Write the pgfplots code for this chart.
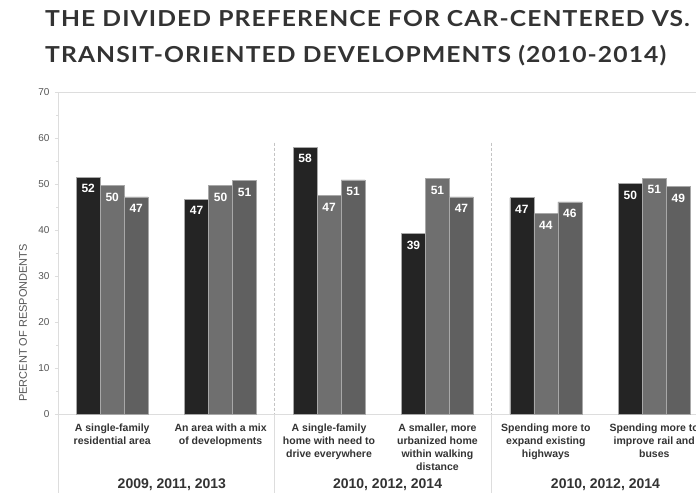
\documentclass[border=0pt]{standalone}
\usepackage{pgfplots}
\pgfplotsset{compat=1.18}
\usepackage{fontspec}
\setmainfont{Liberation Sans}
\newfontfamily\titlefont[LetterSpace=5,FakeStretch=1.12]{Lato}
\definecolor{c1}{HTML}{242424}
\definecolor{c2}{HTML}{6F6F6F}
\definecolor{c3}{HTML}{606060}
\definecolor{edge}{HTML}{A8A8A8}
\definecolor{axisgray}{HTML}{DDDDDD}
\definecolor{dashgray}{HTML}{C4C4C4}
\definecolor{txt}{HTML}{333333}
\definecolor{ticktxt}{HTML}{555555}
\begin{document}
\begin{tikzpicture}
\path[use as bounding box] (0pt,0pt) rectangle (696pt,493pt);
\node[anchor=base west, inner sep=0pt, font=\titlefont\bfseries\fontsize{22}{26}\selectfont, text=txt] at (45pt,466pt) {THE DIVIDED PREFERENCE FOR CAR-CENTERED VS.};
\node[anchor=base west, inner sep=0pt, font=\titlefont\bfseries\fontsize{22}{26}\selectfont, text=txt] at (45pt,430pt) {TRANSIT-ORIENTED DEVELOPMENTS (2010-2014)};
\begin{axis}[
  at={(58pt,79pt)}, anchor=south west,
  width=638pt, height=322pt, scale only axis,
  xmin=-0.5, xmax=5.385, ymin=0, ymax=70,
  ybar=0pt, bar width=24pt,
  clip=false,
  axis x line*=bottom, axis y line*=left,
  axis line style={axisgray, line width=0.8pt, -},
  ytick={0,10,...,70}, minor y tick num=1,
  tick align=outside,
  major tick length=3pt, minor tick length=2pt,
  y tick style={axisgray, line width=0.6pt},
  x tick style={draw=none},
  /pgf/number format/assume math mode=true,
  yticklabel style={font=\fontsize{10}{12}\selectfont, text=ticktxt, xshift=-2pt},
  ylabel={PERCENT OF RESPONDENTS},
  ylabel style={at={(rel axis cs:-0.0549,0.283)}, anchor=center, font=\fontsize{11}{13}\selectfont, text=ticktxt},
  xtick={0,1,2,3,4,5},
  xticklabels={{A single-family\\residential area},{An area with a mix\\of developments},{A single-family\\home with need to\\drive everywhere},{A smaller, more\\urbanized home\\within walking\\distance},{Spending more to\\expand existing\\highways},{Spending more to\\improve rail and\\buses}},
  xticklabel style={align=center, font=\bfseries\fontsize{10.5}{13}\selectfont, text=txt, anchor=north, yshift=-3pt},
  point meta=explicit,
  nodes near coords={\pgfmathprintnumber[fixed,precision=0]{\pgfplotspointmeta}},
  every node near coord/.append style={font=\bfseries\fontsize{12}{14}\selectfont, text=white, anchor=north, inner sep=0pt, yshift=-7pt},
]
\addplot[fill=c1, draw=edge, line width=0.7pt] coordinates {(0,51.5) [52] (1,46.7) [47] (2,58.0) [58] (3,39.2) [39] (4,47.0) [47] (5,50.1) [50]};
\addplot[fill=c2, draw=edge, line width=0.7pt] coordinates {(0,49.6) [50] (1,49.7) [50] (2,47.5) [47] (3,51.2) [51] (4,43.6) [44] (5,51.3) [51]};
\addplot[fill=c3, draw=edge, line width=0.7pt] coordinates {(0,47.2) [47] (1,50.7) [51] (2,50.9) [51] (3,47.2) [47] (4,46.1) [46] (5,49.4) [49]};
\draw[axisgray, line width=0.8pt] (rel axis cs:0,1) -- (rel axis cs:1,1);
\draw[dashgray, line width=0.9pt, dash pattern=on 3pt off 2pt] (axis cs:1.5,59) -- (axis cs:1.5,0);
\draw[dashgray, line width=0.9pt, dash pattern=on 3pt off 2pt] (axis cs:3.5,59) -- (axis cs:3.5,0);
\draw[axisgray, line width=0.8pt] (axis cs:1.5,0) -- ++(0pt,-79pt);
\draw[axisgray, line width=0.8pt] (axis cs:3.5,0) -- ++(0pt,-79pt);
\draw[axisgray, line width=0.8pt] (axis cs:-0.5,0) -- ++(0pt,-79pt);
\node[font=\bfseries\fontsize{14}{16}\selectfont, text=txt, yshift=-71pt] at (axis cs:0.55,0) {2009, 2011, 2013};
\node[font=\bfseries\fontsize{14}{16}\selectfont, text=txt, yshift=-71pt] at (axis cs:2.54,0) {2010, 2012, 2014};
\node[font=\bfseries\fontsize{14}{16}\selectfont, text=txt, yshift=-71pt] at (axis cs:4.55,0) {2010, 2012, 2014};
\end{axis}
\end{tikzpicture}
\end{document}
